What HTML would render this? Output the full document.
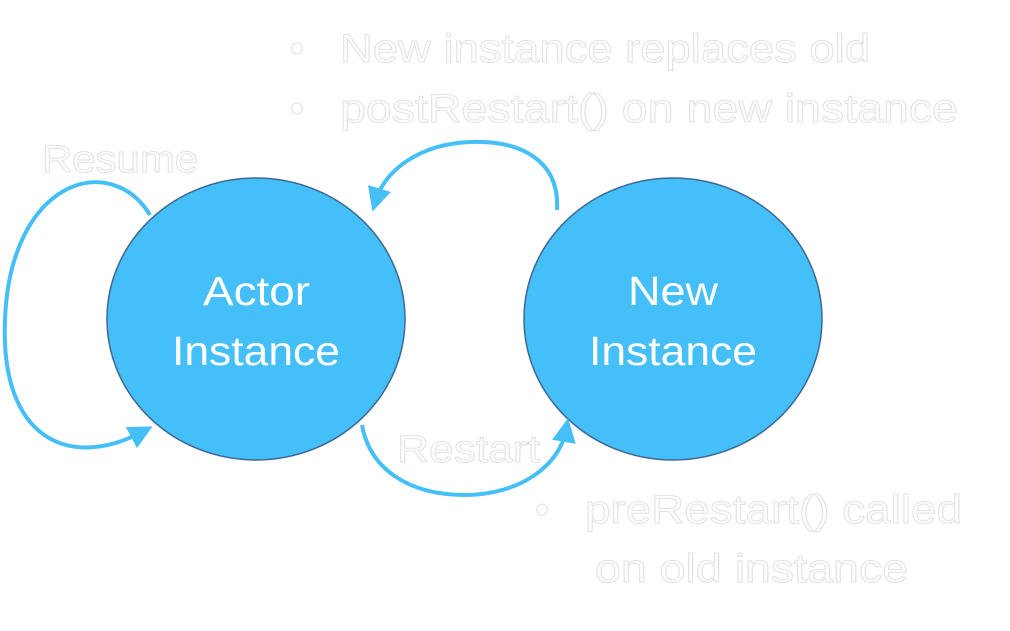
<!DOCTYPE html>
<html><head><style>
body{margin:0;width:1010px;height:626px;background:#fff;overflow:hidden}
svg text{font-family:"Liberation Sans",sans-serif;}
.w{fill:#fff;stroke:#e2e2e2;stroke-width:1;}
</style></head><body>
<svg width="1010" height="626" viewBox="0 0 1010 626" xmlns="http://www.w3.org/2000/svg">
<defs><marker id="a" markerWidth="6" markerHeight="6" refX="3" refY="3" orient="auto" markerUnits="strokeWidth"><path d="M0,0 L6,3 L0,6 z" fill="#44bff7"/></marker></defs>
<ellipse cx="256" cy="319" rx="149" ry="141" fill="#44bff7" stroke="#3d6795" stroke-width="1.5"/>
<ellipse cx="673" cy="319" rx="149" ry="141" fill="#44bff7" stroke="#3d6795" stroke-width="1.5"/>
<text x="203" y="305" font-size="41" fill="#fff" textLength="107" lengthAdjust="spacingAndGlyphs">Actor</text>
<text x="172" y="365" font-size="41" fill="#fff" textLength="168" lengthAdjust="spacingAndGlyphs">Instance</text>
<text x="628" y="305" font-size="41" fill="#fff" textLength="90" lengthAdjust="spacingAndGlyphs">New</text>
<text x="589" y="365" font-size="41" fill="#fff" textLength="168" lengthAdjust="spacingAndGlyphs">Instance</text>
<g fill="none" stroke="#44bff7" stroke-width="4">
<path d="M150,215 C110,150 10,180 5,320 C0,440 70,470 142,432" marker-end="url(#a)"/>
<path d="M557,210 C560,160 520,140 470,142 C420,144 385,170 376,200" marker-end="url(#a)"/>
<path d="M362,425 C370,470 410,495 465,495 C520,495 560,465 566,430" marker-end="url(#a)"/>
</g>
<g font-size="40" class="w" lengthAdjust="spacingAndGlyphs">
<text x="290" y="62">•</text><text x="340" y="62" textLength="530" lengthAdjust="spacingAndGlyphs">New instance replaces old</text>
<text x="290" y="122">•</text><text x="340" y="122" textLength="618" lengthAdjust="spacingAndGlyphs">postRestart() on new instance</text>
<text x="42" y="172" font-size="38" textLength="156" lengthAdjust="spacingAndGlyphs">Resume</text>
<text x="397" y="462" font-size="38" textLength="143" lengthAdjust="spacingAndGlyphs">Restart</text>
<text x="535" y="523">•</text><text x="585" y="523" textLength="377" lengthAdjust="spacingAndGlyphs">preRestart() called</text>
<text x="595" y="582" textLength="313" lengthAdjust="spacingAndGlyphs">on old instance</text>
</g>
</svg>
</body></html>
